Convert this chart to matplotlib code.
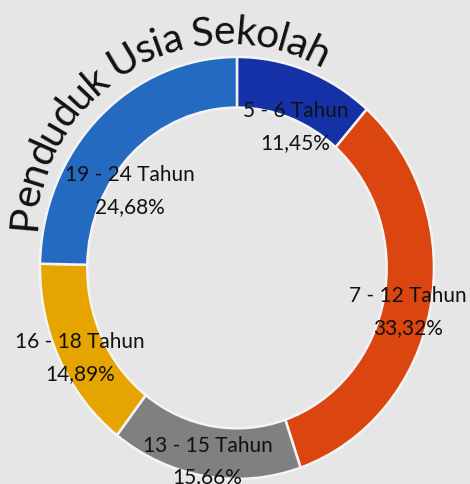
import numpy as np
import matplotlib
matplotlib.use('Agg')
import matplotlib.pyplot as plt
from matplotlib.font_manager import FontProperties, findfont
from matplotlib.ft2font import FT2Font

#data
groups = ['5 - 6 Tahun', '7 - 12 Tahun', '13 - 15 Tahun', '16 - 18 Tahun', '19 - 24 Tahun']
shares = [11.45, 33.32, 15.66, 14.89, 24.68]
title = 'Penduduk Usia Sekolah'

#style
colors = ['#1431a8', '#da4510', '#808080', '#e6a400', '#246ac1']
bg = '#e6e6e6'
lab_pos = [(0.74, -3), (0.89, -1.6), (0.92, 0), (0.90, 2), (0.66, 11)]  # (radius, angle nudge)
font = 'Lato'

fig = plt.figure(figsize=(4.7, 4.84), dpi=100, facecolor=bg)
ax = fig.add_axes([0, 0, 1, 1])
ax.set_facecolor(bg)
wedges, _ = ax.pie(shares, startangle=90, counterclock=False, colors=colors, radius=1,
                   wedgeprops=dict(width=0.24, edgecolor='#f4f4f4', linewidth=1.8))
ax.set_aspect('auto')
ax.set_xlim(-1.203, 1.183)
ax.set_ylim(-1.024, 1.270)
ax.axis('off')

#labels on the ring
for w, g, s, (r, dang) in zip(wedges, groups, shares, lab_pos):
    ang = np.deg2rad((w.theta1 + w.theta2) / 2 + dang)
    txt = g + '\n' + ('%.2f%%' % s).replace('.', ',')
    ax.text(r * np.cos(ang), r * np.sin(ang) - 0.01, txt, ha='center', va='center',
            fontsize=15, family=font, color='#111111', linespacing=1.75)

#curved title, one glyph at a time
tsize = 29.5
ft = FT2Font(findfont(FontProperties(family=font, size=tsize)))
ft.set_size(tsize, 100)
adv = [ft.load_char(ord(c)).linearHoriAdvance / 65536 for c in title]

cx, cy = 227, 484 - 235   # arc centre, px
r_mid = 205
r_base = 191
a0 = np.deg2rad(175)
pos = np.cumsum([0] + adv[:-1]) + np.array(adv) / 2 - adv[0] / 2
for c, p in zip(title, pos):
    a = a0 - p / r_mid
    x = (cx + r_base * np.cos(a)) / 100
    y = (cy + r_base * np.sin(a)) / 100
    fig.text(x, y, c, transform=fig.dpi_scale_trans, fontsize=tsize, family=font,
             rotation=np.rad2deg(a) - 90, rotation_mode='anchor',
             ha='center', va='baseline', color='#111111')

fig.savefig('out.png', dpi=100, facecolor=bg)
